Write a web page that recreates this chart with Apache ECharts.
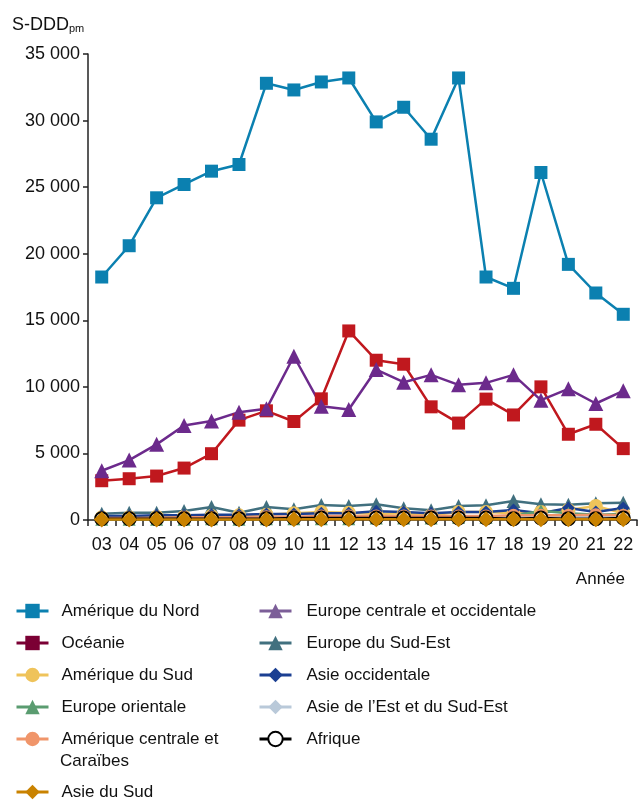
<!DOCTYPE html>
<html><head><meta charset="utf-8">
<script src="https://cdn.jsdelivr.net/npm/echarts@6/dist/echarts.min.js"></script>
<style>html,body{margin:0;padding:0;background:#fff}#c{width:641px;height:803px}</style>
</head><body><div id="c"></div>
<script>
const years = ['03','04','05','06','07','08','09','10','11','12','13','14','15','16','17','18','19','20','21','22'];
const yTicks = [0,5000,10000,15000,20000,25000,30000,35000];

const ameriqueNord = [18250,20600,24200,25200,26200,26700,32800,32300,32900,33200,29900,31000,28600,33200,18250,17400,26100,19200,17050,15450];
const oceanie = [2950,3100,3300,3900,4980,7500,8200,7400,9100,14200,12000,11700,8500,7280,9080,7890,10000,6440,7190,5360];
const europeCentrale = [3700,4500,5680,7100,7440,8100,8350,12300,8550,8300,11300,10350,10900,10150,10300,10900,9000,9850,8750,9700];
const europeSudEst = [470,550,550,680,980,550,980,800,1130,1050,1180,880,730,1050,1100,1430,1180,1150,1250,1300];
const ameriqueSud = [200,200,250,250,300,350,400,500,600,550,450,500,350,600,600,500,600,750,1050,500];
const asieOccidentale = [300,300,350,350,400,400,450,450,500,500,650,600,500,600,600,750,500,900,600,900];
const europeOrientale = [50,50,50,50,100,50,100,100,100,100,150,150,150,200,200,300,700,500,400,450];
const asieEst = [100,100,100,150,150,150,200,200,200,250,250,200,200,250,250,250,300,300,300,300];
const ameriqueCentrale = [150,150,150,200,200,200,250,250,300,300,300,300,300,300,300,350,350,350,400,350];
const afrique = [100,100,100,100,100,100,100,150,150,150,150,150,150,150,150,100,150,100,100,150];
const asieSud = [40,40,40,40,40,40,40,50,50,50,50,50,50,50,50,50,50,50,50,50];

const FONT = "'Liberation Sans',Arial,sans-serif";

function fmt(v){ return String(v).replace(/\B(?=(\d{3})+(?!\d))/g,' '); }

function s(name, data, color, symbol, extra){
  return Object.assign({
    name, type:'line', data, symbol, symbolSize: 13,
    lineStyle:{color, width:2.5},
    itemStyle:{color},
    emphasis:{disabled:true},
    animation:false
  }, extra||{});
}

const series = [
  s('Amérique du Nord', ameriqueNord, '#0b80b0', 'rect'),
  s('Océanie', oceanie, '#c0181e', 'rect'),
  s('Europe centrale et occidentale', europeCentrale, '#6c2a8c', 'triangle', {symbolSize:15}),
  s('Europe du Sud-Est', europeSudEst, '#41707f', 'triangle', {symbolSize:14}),
  s('Amérique du Sud', ameriqueSud, '#efc35a', 'circle', {symbolSize:14}),
  s('Asie occidentale', asieOccidentale, '#1b3f92', 'diamond'),
  s('Europe orientale', europeOrientale, '#5a9c70', 'triangle'),
  s('Asie de l\u2019Est et du Sud-Est', asieEst, '#b9c9d9', 'diamond'),
  s('Amérique centrale et Caraïbes', ameriqueCentrale, '#f0956a', 'circle'),
  s('Afrique', afrique, '#000000', 'emptyCircle', {itemStyle:{color:'#000', borderColor:'#000', borderWidth:2}}),
  s('Asie du Sud', asieSud, '#c98200', 'diamond', {symbolSize:16})
];

const legendBase = {
  orient:'vertical', itemWidth:32, itemHeight:18, itemGap:10, selectedMode:false, padding:0,
  lineStyle:{width:3},
  textStyle:{fontFamily:FONT, fontSize:17, color:'#111', lineHeight:22, padding:[0,0,0,8]}
};

const option = {
  animation:false,
  title:{
    text:'{a|S-DDD}{b|pm}', left:12, top:12, padding:0,
    textStyle:{fontWeight:'normal', rich:{
      a:{fontFamily:FONT, fontSize:18, color:'#111', fontWeight:'normal', verticalAlign:'bottom', lineHeight:22},
      b:{fontFamily:FONT, fontSize:11, color:'#111', fontWeight:'normal', verticalAlign:'bottom', lineHeight:18}
    }}
  },
  grid:{left:88, right:4, top:54, bottom:283, containLabel:false},
  xAxis:{
    type:'category', data:years, boundaryGap:true,
    axisLine:{lineStyle:{color:'#222', width:1.5}},
    axisTick:{show:true, length:6, lineStyle:{color:'#222', width:1.5}},
    axisLabel:{fontFamily:FONT, fontSize:18, color:'#111', margin:16, interval:0}
  },
  yAxis:{
    type:'value', min:0, max:35000, interval:5000,
    splitLine:{show:false},
    axisLine:{show:true, lineStyle:{color:'#222', width:1.5}},
    axisTick:{show:true, length:5, lineStyle:{color:'#222', width:1.5}},
    axisLabel:{fontFamily:FONT, fontSize:18, color:'#111', margin:8, formatter:fmt}
  },
  legend:[
    Object.assign({}, legendBase, {left:15, top:600,
      data:[
        {name:'Amérique du Nord'},
        {name:'Océanie', itemStyle:{color:'#7b0034'}, lineStyle:{color:'#7b0034'}},
        {name:'Amérique du Sud'},
        {name:'Europe orientale'},
        {name:'Amérique centrale et Caraïbes'}
      ],
      formatter:function(n){ return n==='Amérique centrale et Caraïbes' ? 'Amérique centrale et' : n; }
    }),
    Object.assign({}, legendBase, {left:15, top:781, data:[{name:'Asie du Sud'}]}),
    Object.assign({}, legendBase, {left:258, top:600,
      textStyle:Object.assign({}, legendBase.textStyle, {padding:[0,0,0,10]}),
      data:[
        {name:'Europe centrale et occidentale', itemStyle:{color:'#7c5e98'}, lineStyle:{color:'#7c5e98'}},
        {name:'Europe du Sud-Est'},
        {name:'Asie occidentale'},
        {name:'Asie de l\u2019Est et du Sud-Est'},
        {name:'Afrique'}
      ]
    })
  ],
  graphic:[
    {type:'text', left:60, top:753, style:{text:'Caraïbes', font:'17px '+FONT, fill:'#111'}},
    {type:'text', right:16, top:571, style:{text:'Année', font:'17px '+FONT, fill:'#111'}}
  ],
  series
};

const chart = echarts.init(document.getElementById('c'), null, {renderer:'canvas'});
chart.setOption(option);
</script>
</body></html>
